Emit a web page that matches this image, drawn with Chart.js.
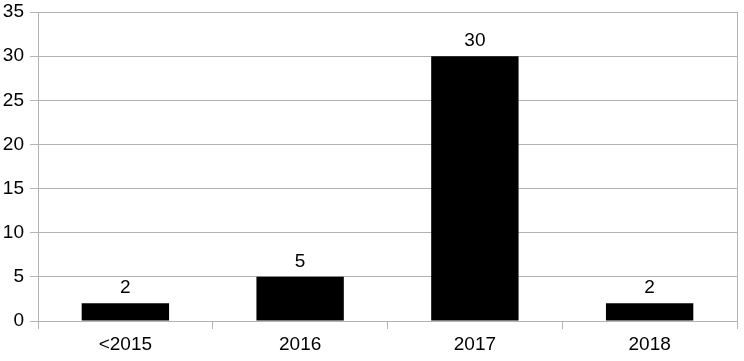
<!DOCTYPE html>
<html>
<head>
<meta charset="utf-8">
<script src="https://cdn.jsdelivr.net/npm/chart.js@4"></script>
<style>
  html, body { margin: 0; padding: 0; background: #fff; }
  #wrap { width: 744px; height: 361px; }
</style>
</head>
<body>
<div id="wrap"><canvas id="chart" width="744" height="361"></canvas></div>
<script>
const categories = ['<2015', '2016', '2017', '2018'];
const counts = [2, 5, 30, 2];
const yTicks = [0, 5, 10, 15, 20, 25, 30, 35];

const gridGray = '#b3b3b3';
const fontFamily = '"Liberation Sans", Arial, sans-serif';

// labels above each bar
const barLabels = {
    id: 'barLabels',
    afterDatasetsDraw(chart) {
        const ctx = chart.ctx;
        const meta = chart.getDatasetMeta(0);
        ctx.save();
        ctx.font = '19px ' + fontFamily;
        ctx.fillStyle = '#000';
        ctx.textAlign = 'center';
        ctx.textBaseline = 'alphabetic';
        meta.data.forEach((bar, i) => {
            ctx.fillText(String(counts[i]), bar.x, bar.y - 10);
        });
        ctx.restore();
    }
};

new Chart(document.getElementById('chart').getContext('2d'), {
    type: 'bar',
    data: {
        labels: categories,
        datasets: [{
            data: counts,
            backgroundColor: '#000',
            borderWidth: 0,
            barPercentage: 0.5,
            categoryPercentage: 1
        }]
    },
    options: {
        responsive: false,
        animation: false,
        devicePixelRatio: 1,
        layout: { padding: { top: 12, right: 7, left: 0, bottom: 0 } },
        plugins: {
            legend: { display: false },
            tooltip: { enabled: false }
        },
        scales: {
            x: {
                grid: {
                    offset: true,
                    color: gridGray,
                    tickLength: 8,
                    drawOnChartArea: false
                },
                border: { color: gridGray },
                ticks: {
                    color: '#000',
                    padding: 4,
                    font: { family: fontFamily, size: 19 }
                },
                afterFit(scale) { scale.height = 40; }
            },
            y: {
                min: 0,
                max: 35,
                grid: { color: gridGray, tickLength: 8 },
                border: { color: gridGray },
                afterBuildTicks(scale) {
                    scale.ticks = yTicks.map(v => ({ value: v }));
                },
                ticks: {
                    color: '#000',
                    padding: 6,
                    font: { family: fontFamily, size: 19 }
                },
                afterFit(scale) {
                    scale.width = 38;
                    scale.paddingTop = 0;
                    scale.paddingBottom = 0;
                }
            }
        }
    },
    plugins: [barLabels, {
        id: 'rightEdge',
        // vertical line at the right end of the plot, as in the reference
        afterDraw(chart) {
            const a = chart.chartArea;
            const ctx = chart.ctx;
            ctx.save();
            ctx.strokeStyle = gridGray;
            ctx.lineWidth = 1;
            ctx.beginPath();
            ctx.moveTo(a.right + 0.5, a.top);
            ctx.lineTo(a.right + 0.5, a.bottom + 8);
            ctx.stroke();
            ctx.restore();
        }
    }]
});
</script>
</body>
</html>
